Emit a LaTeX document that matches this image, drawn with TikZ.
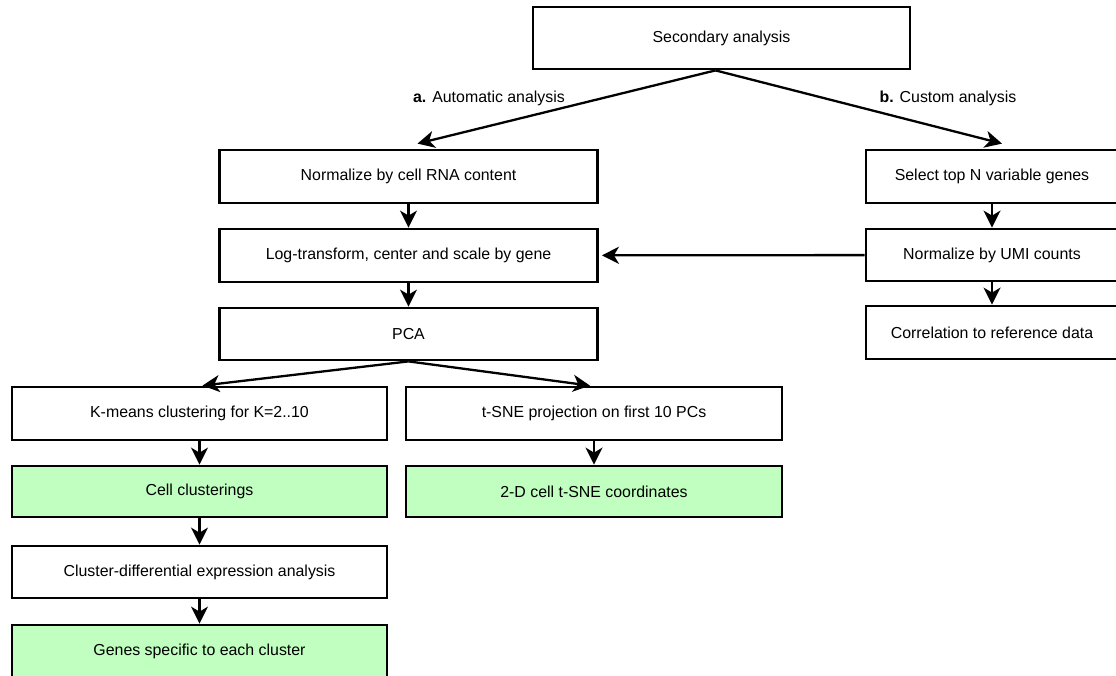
\documentclass[tikz,border=0pt]{standalone}
\usepackage{fontspec}
\setmainfont{Liberation Sans}
\usetikzlibrary{arrows.meta,calc}
\definecolor{pgreen}{RGB}{192,255,192}
\begin{document}
\begin{tikzpicture}[x=1pt,y=-1pt,
  box/.style={draw, line width=2.8pt, inner sep=0pt, align=center,
    font=\fontsize{15.9}{18}\selectfont},
  res/.style={box, fill=pgreen},
  arr/.style={line width=2.3pt, -{Stealth[length=17pt,width=17pt,inset=5pt]}},
  lbl/.style={font=\fontsize{15.9}{18}\selectfont, inner sep=0pt}]
\useasboundingbox (0,0) rectangle (1116,676);
\fill[white] (0,0) rectangle (1116,676);

\node[box, minimum width=377pt, minimum height=62pt] (sec) at (721.5,38) {Secondary analysis};

\node[box, minimum width=378pt, minimum height=53pt] (norm) at (408.5,176.5) {Normalize by cell RNA content};
\node[box, minimum width=378pt, minimum height=53pt] (log) at (408.5,255.5) {Log-transform, center and scale by gene};
\node[box, minimum width=378pt, minimum height=52pt] (pca) at (408.5,334) {PCA};

\node[box, minimum width=252pt, minimum height=53pt] (sel) at (992,176.5) {Select top N variable genes};
\node[box, minimum width=252pt, minimum height=52pt] (umi) at (992,255) {Normalize by UMI counts};
\node[box, minimum width=252pt, minimum height=53pt] (cor) at (992,332.5) {Correlation to reference data};

\node[box, minimum width=375pt, minimum height=53pt] (km) at (199.5,413.5) {K-means clustering for K=2..10};
\node[box, minimum width=376pt, minimum height=53pt] (tsne) at (594,413.5) {t-SNE projection on first 10 PCs};

\node[res, minimum width=375pt, minimum height=51pt] (cell) at (199.5,491.5) {Cell clusterings};
\node[res, minimum width=376pt, minimum height=51pt] (coord) at (594,491.5) {2-D cell t-SNE coordinates};

\node[box, minimum width=375pt, minimum height=52pt] (diff) at (199.5,572) {Cluster-differential expression analysis};
\node[res, minimum width=375pt, minimum height=53pt] (genes) at (199.5,651.5) {Genes specific to each cluster};

\node[lbl] (la) at (489,98) {\textbf{a.} Automatic analysis};
\node[lbl] (lb) at (948,98) {\textbf{b.} Custom analysis};

\draw[arr] ([xshift=-6pt]sec.south) -- ([xshift=9pt,yshift=5pt]norm.north);
\draw[arr] ([xshift=-6pt]sec.south) -- ([xshift=10pt,yshift=5pt]sel.north);

\draw[arr] (norm) -- (log);
\draw[arr] (log) -- (pca);
\draw[arr, shorten >=3pt] (umi) -- (log);
\draw[arr] (sel) -- (umi);
\draw[arr] (umi) -- (cor);

\draw[arr] (pca.south) -- ([xshift=3pt]km.north);
\draw[arr] (pca.south) -- ([xshift=-4pt]tsne.north);

\draw[arr] (km) -- (cell);
\draw[arr] (tsne) -- (coord);
\draw[arr] (cell) -- (diff);
\draw[arr] (diff) -- (genes);
\end{tikzpicture}
\end{document}
